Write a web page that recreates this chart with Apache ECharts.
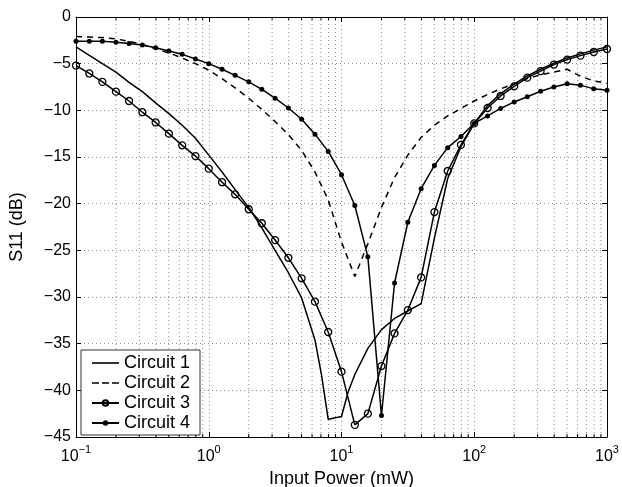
<!DOCTYPE html>
<html><head><meta charset="utf-8">
<script src="https://cdn.jsdelivr.net/npm/echarts@6/dist/echarts.min.js"></script>
<style>html,body{margin:0;padding:0;background:#fff}#c{width:622px;height:487px}</style>
</head><body><div id="c"></div>
<script>
// Input power samples (mW), log spaced
const powerMW = [0.1, 0.126, 0.158, 0.2, 0.251, 0.316, 0.398, 0.501, 0.631, 0.794,
  1, 1.26, 1.58, 2, 2.51, 3.16, 3.98, 5.01, 6.31, 7.94,
  10, 12.6, 15.8, 20, 25.1, 31.6, 39.8, 50.1, 63.1, 79.4,
  100, 126, 158, 200, 251, 316, 398, 501, 631, 794, 1000];
const circuit1Power = [0.1, 0.126, 0.158, 0.2, 0.251, 0.316, 0.398, 0.501, 0.631, 0.794,
  1, 1.26, 1.58, 2, 2.51, 3.16, 3.98, 5.01, 6.31, 7.08, 7.94,
  10, 11.2, 12.6, 15.8, 20, 25.1, 31.6, 39.8, 50.1, 63.1, 79.4,
  100, 126, 158, 200, 251, 316, 398, 501, 631, 794, 1000];
const circuit1 = [-3.2, -4.1, -5.0, -5.9, -7.0, -8.0, -9.2, -10.35, -11.6, -13.0,
  -14.8, -16.6, -18.5, -20.4, -22.6, -25.0, -27.4, -30.1, -34.6, -38.4, -43.1,
  -42.8, -40.2, -38.3, -35.5, -33.5, -32.3, -31.5, -30.7, -23.7, -17.3, -13.9,
  -11.4, -9.5, -8.2, -7.2, -6.3, -5.6, -4.95, -4.4, -3.95, -3.55, -3.2];
const circuit2 = [-2.1, -2.15, -2.2, -2.35, -2.6, -2.95, -3.4, -3.85, -4.4, -5.0,
  -5.7, -6.6, -7.6, -8.7, -9.9, -11.2, -12.6, -14.3, -16.6, -19.6,
  -24.1, -27.8, -24.3, -20.4, -17.2, -14.8, -12.9, -11.6, -10.6, -9.8,
  -9.0, -8.3, -7.7, -7.15, -6.6, -6.2, -5.9, -5.6, -6.35, -6.85, -7.1];
const circuit3 = [-5.2, -6.05, -6.95, -8.0, -9.0, -10.2, -11.3, -12.5, -13.75, -14.9,
  -16.25, -17.7, -19.0, -20.6, -22.1, -23.9, -25.8, -28.0, -30.5, -33.75,
  -38.0, -43.7, -42.5, -37.4, -33.9, -31.4, -27.9, -20.9, -16.5, -13.7,
  -11.4, -9.75, -8.46, -7.43, -6.5, -5.8, -5.1, -4.57, -4.14, -3.75, -3.43];
const circuit4 = [-2.6, -2.6, -2.6, -2.7, -2.85, -3.0, -3.3, -3.65, -4.0, -4.5,
  -5.0, -5.6, -6.25, -6.95, -7.75, -8.7, -9.75, -10.95, -12.55, -14.4,
  -16.9, -20.2, -25.7, -42.7, -28.5, -22.0, -18.4, -15.9, -14.0, -12.8,
  -11.4, -10.6, -9.8, -9.1, -8.55, -7.95, -7.5, -7.15, -7.3, -7.7, -7.85];
const seriesNames = ['Circuit 1', 'Circuit 2', 'Circuit 3', 'Circuit 4'];
const xMinorTicks = [0.2,0.3,0.4,0.5,0.6,0.7,0.8,0.9, 2,3,4,5,6,7,8,9,
  20,30,40,50,60,70,80,90, 200,300,400,500,600,700,800,900];
const xMin = 0.1, xMax = 1000, yMin = -45, yMax = 0, yStep = 5;

const FONT = '"Liberation Sans", Arial, Helvetica, sans-serif';
const GRID_COLOR = '#8c8c8c';
const DOT = [1, 3];
function pairs(xs, ys) { return xs.map((x, i) => [x, ys[i]]); }
function supLabel(v) {
  const e = Math.round(Math.log10(v));
  return '{b|10}{s|' + (e < 0 ? '\u2212' + (-e) : e) + '}';
}
const solidIcon = 'path://M0,0 H27 V1.6 H0 Z';
const dashIcon = 'path://M0,0 H7 V1.6 H0 Z M10,0 H17 V1.6 H10 Z M20,0 H27 V1.6 H20 Z';

const chart = echarts.init(document.getElementById('c'), null, {renderer: 'canvas'});
const lineBase = {type: 'line', xAxisIndex: 0, yAxisIndex: 0, animation: false, z: 5};
chart.setOption({
  animation: false,
  backgroundColor: '#fff',
  grid: {left: 76, right: 15, top: 17, bottom: 50, containLabel: false, outerBoundsMode: 'none'},
  legend: {
    data: [
      {name: seriesNames[0], icon: solidIcon, symbolKeepAspect: true, itemStyle: {color: '#000', borderWidth: 0}},
      {name: seriesNames[1], icon: dashIcon, symbolKeepAspect: true, itemStyle: {color: '#000', borderWidth: 0}},
      {name: seriesNames[2]},
      {name: seriesNames[3]}
    ],
    orient: 'vertical', left: 81, top: 350,
    itemWidth: 27, itemHeight: 7, itemGap: 2, padding: [4, 10, 3, 10],
    borderColor: '#333', borderWidth: 1, backgroundColor: '#fff',
    selectedMode: false, z: 10,
    textStyle: {fontSize: 18, color: '#000', fontFamily: FONT, lineHeight: 17}
  },
  xAxis: [{
    type: 'log', logBase: 10, min: xMin, max: xMax, position: 'bottom',
    name: 'Input Power (mW)', nameLocation: 'middle', nameGap: 32,
    nameTextStyle: {fontSize: 18, color: '#000', fontFamily: FONT},
    axisLine: {show: true, onZero: false, lineStyle: {color: '#000', width: 1}},
    axisTick: {show: true, inside: true, length: 5, lineStyle: {color: '#000'}},
    splitLine: {show: true, lineStyle: {color: GRID_COLOR, type: DOT, width: 1}},
    minorTick: {show: false}, minorSplitLine: {show: false},
    axisLabel: {margin: 6, formatter: supLabel, color: '#000',
      rich: {b: {fontSize: 16, fontFamily: FONT, color: '#000', padding: [6, 0, 0, 0]},
             s: {fontSize: 11, fontFamily: FONT, color: '#000', padding: [0, 0, 8, 0]}}}
  }, {
    type: 'log', logBase: 10, min: xMin, max: xMax, position: 'top',
    axisLine: {show: true, onZero: false, lineStyle: {color: '#000', width: 1}},
    axisTick: {show: true, inside: true, length: 5, lineStyle: {color: '#000'}},
    axisLabel: {show: false}, splitLine: {show: false}
  }],
  yAxis: [{
    type: 'value', min: yMin, max: yMax, interval: yStep, position: 'left',
    name: 'S11 (dB)', nameLocation: 'middle', nameGap: 50,
    nameTextStyle: {fontSize: 18, color: '#000', fontFamily: FONT},
    axisLine: {show: true, onZero: false, lineStyle: {color: '#000', width: 1}},
    axisTick: {show: true, inside: true, length: 5, lineStyle: {color: '#000'}},
    splitLine: {show: true, lineStyle: {color: GRID_COLOR, type: DOT, width: 1}},
    axisLabel: {margin: 5, fontSize: 16, fontFamily: FONT, color: '#000',
      formatter: v => String(v).replace('-', '\u2212')}
  }, {
    type: 'value', min: yMin, max: yMax, interval: yStep, position: 'right',
    axisLine: {show: true, onZero: false, lineStyle: {color: '#000', width: 1}},
    axisTick: {show: true, inside: true, length: 5, lineStyle: {color: '#000'}},
    axisLabel: {show: false}, splitLine: {show: false}
  }],
  series: [
    {
      type: 'custom', name: 'minorGrid', xAxisIndex: 0, yAxisIndex: 0, silent: true, z: 1,
      data: xMinorTicks.map(v => [v, yMin]), encode: {x: 0, y: 1},
      renderItem: function (params, api) {
        const x = api.value(0);
        const b = api.coord([x, yMin]);
        const t = api.coord([x, yMax]);
        return {type: 'group', children: [
          {type: 'line', shape: {x1: b[0], y1: b[1], x2: t[0], y2: t[1]},
           style: {stroke: GRID_COLOR, lineWidth: 1, lineDash: DOT}},
          {type: 'line', shape: {x1: b[0], y1: b[1], x2: b[0], y2: b[1] - 3},
           style: {stroke: '#000', lineWidth: 1}},
          {type: 'line', shape: {x1: t[0], y1: t[1], x2: t[0], y2: t[1] + 3},
           style: {stroke: '#000', lineWidth: 1}}
        ]};
      }
    },
    Object.assign({}, lineBase, {
      name: seriesNames[0], data: pairs(circuit1Power, circuit1), symbol: 'none',
      lineStyle: {color: '#000', width: 1.5}, itemStyle: {color: '#000'}
    }),
    Object.assign({}, lineBase, {
      name: seriesNames[1], data: pairs(powerMW, circuit2), symbol: 'none',
      lineStyle: {color: '#000', width: 1.5, type: [6, 5]}, itemStyle: {color: '#000'}
    }),
    Object.assign({}, lineBase, {
      name: seriesNames[2], data: pairs(powerMW, circuit3), symbol: 'circle', symbolSize: 7,
      lineStyle: {color: '#000', width: 1.5},
      itemStyle: {color: 'rgba(255,255,255,0)', borderColor: '#000', borderWidth: 1.3}
    }),
    Object.assign({}, lineBase, {
      name: seriesNames[3], data: pairs(powerMW, circuit4), symbol: 'circle', symbolSize: 5,
      lineStyle: {color: '#000', width: 1.5}, itemStyle: {color: '#000'}
    })
  ]
});
</script>
</body></html>
